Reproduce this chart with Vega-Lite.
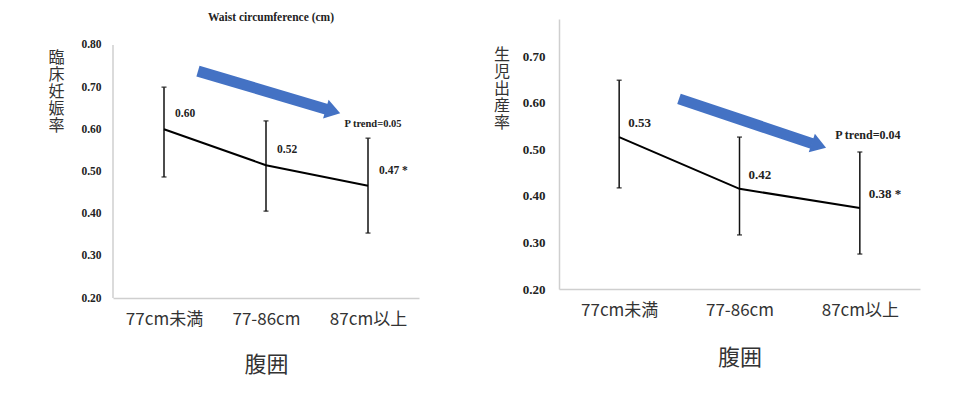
{
  "$schema": "https://vega.github.io/schema/vega-lite/v6.json",
  "background": "white",
  "padding": {"left": 47, "top": 11, "right": 5, "bottom": 5},
  "spacing": 74,
  "config": {
    "view": {"stroke": null},
    "axis": {"grid": false, "ticks": false, "domainColor": "#cfcfcf", "domainWidth": 1.5}
  },
  "datasets": {
    "left": [
      {"cat": "77cm未満", "rate": 0.6, "lo": 0.487, "hi": 0.7, "label": "0.60"},
      {"cat": "77-86cm", "rate": 0.515, "lo": 0.406, "hi": 0.62, "label": "0.52"},
      {"cat": "87cm以上", "rate": 0.466, "lo": 0.354, "hi": 0.579, "label": "0.47 *"}
    ],
    "leftTrend": [{"cat": "87cm以上", "y": 0.613, "text": "P trend=0.05"}],
    "leftAxisLine": [{"x": -0.5, "y": 0.2, "y2": 0.8}],
    "leftArrow": [{"x": 0.333, "y": 0.738, "x2": 1.6, "y2": 0.647, "hx": 1.657, "hy": 0.643}],
    "right": [
      {"cat": "77cm未満", "rate": 0.526, "lo": 0.417, "hi": 0.648, "label": "0.53"},
      {"cat": "77-86cm", "rate": 0.415, "lo": 0.316, "hi": 0.526, "label": "0.42"},
      {"cat": "87cm以上", "rate": 0.374, "lo": 0.275, "hi": 0.494, "label": "0.38 *"}
    ],
    "rightTrend": [{"cat": "87cm以上", "y": 0.53, "text": "P trend=0.04"}],
    "rightArrow": [{"x": 0.497, "y": 0.608, "x2": 1.605, "y2": 0.512, "hx": 1.66, "hy": 0.508}]
  },
  "hconcat": [
    {
      "width": 306,
      "height": 279,
      "title": {"text": "Waist circumference (cm)", "font": "Liberation Serif", "fontSize": 11.5, "fontWeight": "bold", "color": "#222", "offset": -4, "dx": 5},
      "resolve": {"scale": {"x": "independent"}},
      "layer": [
        {
          "encoding": {
            "x": {
              "field": "cat", "type": "ordinal", "sort": null,
              "scale": {"type": "point", "padding": 0.5, "domain": ["77cm未満", "77-86cm", "87cm以上"]},
              "axis": {"title": "腹囲", "labelAngle": 0, "labelFont": "Noto Sans CJK JP", "labelFontSize": 17, "labelColor": "#333", "labelPadding": 13, "titleFont": "Noto Sans CJK JP", "titleFontSize": 22, "titleFontWeight": "normal", "titleColor": "#333", "titlePadding": 27}
            }
          },
          "layer": [
            {
              "data": {"name": "left"},
              "mark": {"type": "rule", "strokeWidth": 1.5, "color": "#111"},
              "encoding": {
                "y": {
                  "field": "lo", "type": "quantitative",
                  "scale": {"domain": [0.2, 0.8616], "nice": false, "zero": false},
                  "axis": {"domain": false, "values": [0.2, 0.3, 0.4, 0.5, 0.6, 0.7, 0.8], "format": ".2f", "labelFont": "Liberation Serif", "labelFontWeight": "bold", "labelFontSize": 11.5, "labelColor": "#222", "labelPadding": 12, "title": ["臨", "床", "妊", "娠", "率"], "titleAngle": 0, "titleAlign": "center", "titleBaseline": "top", "titleX": -57, "titleY": 30, "titleFont": "Noto Sans CJK JP", "titleFontSize": 16, "titleFontWeight": "normal", "titleLineHeight": 17, "titleColor": "#333"}
                },
                "y2": {"field": "hi"}
              }
            },
            {
              "data": {"name": "left"},
              "mark": {"type": "tick", "orient": "horizontal", "size": 5, "thickness": 1.5, "color": "#111"},
              "encoding": {"y": {"field": "hi", "type": "quantitative"}}
            },
            {
              "data": {"name": "left"},
              "mark": {"type": "tick", "orient": "horizontal", "size": 5, "thickness": 1.5, "color": "#111"},
              "encoding": {"y": {"field": "lo", "type": "quantitative"}}
            },
            {
              "data": {"name": "left"},
              "mark": {"type": "line", "color": "#000", "strokeWidth": 2},
              "encoding": {"y": {"field": "rate", "type": "quantitative"}}
            },
            {
              "data": {"name": "left"},
              "mark": {"type": "text", "align": "left", "baseline": "middle", "dx": 11, "dy": -15, "font": "Liberation Serif", "fontWeight": "bold", "fontSize": 11.5, "color": "#222"},
              "encoding": {"y": {"field": "rate", "type": "quantitative"}, "text": {"field": "label"}}
            },
            {
              "data": {"name": "leftTrend"},
              "mark": {"type": "text", "align": "center", "baseline": "middle", "dx": 5, "font": "Liberation Serif", "fontWeight": "bold", "fontSize": 10.5, "color": "#222"},
              "encoding": {"y": {"field": "y", "type": "quantitative"}, "text": {"field": "text"}}
            }
          ]
        },
        {
          "layer": [
            {
              "data": {"name": "leftAxisLine"},
              "mark": {"type": "rule", "strokeWidth": 1.5, "color": "#cfcfcf"},
              "encoding": {
                "x": {"field": "x", "type": "quantitative", "scale": {"domain": [-0.5, 2.5], "nice": false, "zero": false}, "axis": null},
                "y": {"field": "y", "type": "quantitative"},
                "y2": {"field": "y2"}
              }
            },
            {
              "data": {"name": "leftArrow"},
              "mark": {"type": "rule", "strokeWidth": 11, "strokeCap": "butt", "color": "#4472C4"},
              "encoding": {
                "x": {"field": "x", "type": "quantitative", "scale": {"domain": [-0.5, 2.5], "nice": false, "zero": false}, "axis": null},
                "x2": {"field": "x2"},
                "y": {"field": "y", "type": "quantitative"},
                "y2": {"field": "y2"}
              }
            },
            {
              "data": {"name": "leftArrow"},
              "mark": {"type": "point", "filled": true, "opacity": 1, "shape": "M1,0L-1,-1.3L-1,1.3Z", "size": 225, "angle": 16.5, "color": "#4472C4"},
              "encoding": {
                "x": {"field": "hx", "type": "quantitative", "scale": {"domain": [-0.5, 2.5], "nice": false, "zero": false}, "axis": null},
                "y": {"field": "hy", "type": "quantitative"}
              }
            }
          ]
        }
      ]
    },
    {
      "width": 361,
      "height": 270,
      "resolve": {"scale": {"x": "independent"}},
      "layer": [
        {
          "encoding": {
            "x": {
              "field": "cat", "type": "ordinal", "sort": null,
              "scale": {"type": "point", "padding": 0.5, "domain": ["77cm未満", "77-86cm", "87cm以上"]},
              "axis": {"title": "腹囲", "labelAngle": 0, "labelFont": "Noto Sans CJK JP", "labelFontSize": 17, "labelColor": "#333", "labelPadding": 13, "titleFont": "Noto Sans CJK JP", "titleFontSize": 22, "titleFontWeight": "normal", "titleColor": "#333", "titlePadding": 29}
            }
          },
          "layer": [
            {
              "data": {"name": "right"},
              "mark": {"type": "rule", "strokeWidth": 1.5, "color": "#111"},
              "encoding": {
                "y": {
                  "field": "lo", "type": "quantitative",
                  "scale": {"domain": [0.2, 0.7794], "nice": false, "zero": false},
                  "axis": {"values": [0.2, 0.3, 0.4, 0.5, 0.6, 0.7], "format": ".2f", "labelFont": "Liberation Serif", "labelFontWeight": "bold", "labelFontSize": 13, "labelColor": "#222", "labelPadding": 14, "title": ["生", "児", "出", "産", "率"], "titleAngle": 0, "titleAlign": "center", "titleBaseline": "top", "titleX": -57.5, "titleY": 27, "titleFont": "Noto Sans CJK JP", "titleFontSize": 16, "titleFontWeight": "normal", "titleLineHeight": 17, "titleColor": "#333"}
                },
                "y2": {"field": "hi"}
              }
            },
            {
              "data": {"name": "right"},
              "mark": {"type": "tick", "orient": "horizontal", "size": 5, "thickness": 1.5, "color": "#111"},
              "encoding": {"y": {"field": "hi", "type": "quantitative"}}
            },
            {
              "data": {"name": "right"},
              "mark": {"type": "tick", "orient": "horizontal", "size": 5, "thickness": 1.5, "color": "#111"},
              "encoding": {"y": {"field": "lo", "type": "quantitative"}}
            },
            {
              "data": {"name": "right"},
              "mark": {"type": "line", "color": "#000", "strokeWidth": 2},
              "encoding": {"y": {"field": "rate", "type": "quantitative"}}
            },
            {
              "data": {"name": "right"},
              "mark": {"type": "text", "align": "left", "baseline": "middle", "dx": 9, "dy": -14, "font": "Liberation Serif", "fontWeight": "bold", "fontSize": 13, "color": "#222"},
              "encoding": {"y": {"field": "rate", "type": "quantitative"}, "text": {"field": "label"}}
            },
            {
              "data": {"name": "rightTrend"},
              "mark": {"type": "text", "align": "center", "baseline": "middle", "dx": 8, "font": "Liberation Serif", "fontWeight": "bold", "fontSize": 12, "color": "#222"},
              "encoding": {"y": {"field": "y", "type": "quantitative"}, "text": {"field": "text"}}
            }
          ]
        },
        {
          "data": {"name": "rightArrow"},
          "layer": [
            {
              "mark": {"type": "rule", "strokeWidth": 11, "strokeCap": "butt", "color": "#4472C4"},
              "encoding": {
                "x": {"field": "x", "type": "quantitative", "scale": {"domain": [-0.5, 2.5], "nice": false, "zero": false}, "axis": null},
                "x2": {"field": "x2"},
                "y": {"field": "y", "type": "quantitative"},
                "y2": {"field": "y2"}
              }
            },
            {
              "mark": {"type": "point", "filled": true, "opacity": 1, "shape": "M1,0L-1,-1.3L-1,1.3Z", "size": 225, "angle": 18.4, "color": "#4472C4"},
              "encoding": {
                "x": {"field": "hx", "type": "quantitative", "scale": {"domain": [-0.5, 2.5], "nice": false, "zero": false}, "axis": null},
                "y": {"field": "hy", "type": "quantitative"}
              }
            }
          ]
        }
      ]
    }
  ]
}
